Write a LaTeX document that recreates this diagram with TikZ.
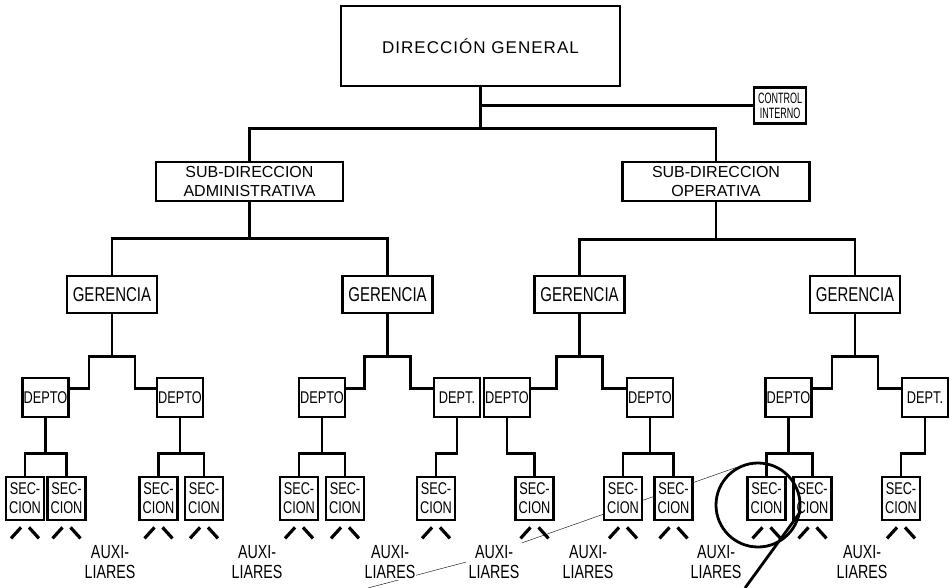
\documentclass[tikz,border=0pt]{standalone}
\usepackage{fontspec}
\setmainfont{Liberation Sans}
\newfontfamily\etroite[FakeStretch=0.75]{Liberation Sans}
\newfontfamily\tresetroite[FakeStretch=0.6]{Liberation Sans}
\newfontfamily\espacee[LetterSpace=6]{Liberation Sans}
\usetikzlibrary{backgrounds}

\begin{document}
\begin{tikzpicture}[x=1pt, y=-1pt, line width=2.8pt]
        % Style des noeuds
        \tikzstyle{bloc} = [draw, fill=white, inner sep=0pt, align=center]
        \tikzstyle{sub} = [bloc, minimum width=187pt, minimum height=39pt, font=\fontsize{16}{19}\selectfont]
        \tikzstyle{ger} = [bloc, minimum width=90pt, minimum height=37pt, font=\etroite\fontsize{20}{22}\selectfont]
        \tikzstyle{depto} = [bloc, minimum width=46pt, minimum height=39pt, font=\etroite\fontsize{17}{19}\selectfont]
        \tikzstyle{sec} = [bloc, minimum width=38pt, minimum height=43pt, font=\etroite\fontsize{17}{19}\selectfont]
        \tikzstyle{aux} = [fill=white, inner sep=1pt, align=center, font=\etroite\fontsize{19}{20}\selectfont]
        \tikzstyle{chev} = [line width=3.2pt]

        \useasboundingbox (0,0) rectangle (950,588);

        % Direction
        \node[bloc, minimum width=279pt, minimum height=80pt, font=\espacee\fontsize{17}{20}\selectfont] (dg) at (480.5,46) {DIRECCIÓN GENERAL};
        \node[bloc, minimum width=52pt, minimum height=36pt, font=\tresetroite\fontsize{15}{15}\selectfont] (ctrl) at (780,105.5) {CONTROL\\INTERNO};
        \node[sub] (sda) at (249.5,181.5) {SUB-DIRECCION\\ADMINISTRATIVA};
        \node[sub] (sdo) at (716,181.5) {SUB-DIRECCION\\OPERATIVA};

        % Gerencias
        \node[ger] (g1) at (112,294.5) {GERENCIA};
        \node[ger] (g2) at (387.5,294.5) {GERENCIA};
        \node[ger] (g3) at (579.5,294.5) {GERENCIA};
        \node[ger] (g4) at (855,294.5) {GERENCIA};

        % Departements
        \node[depto] (d1) at (45.5,397.5) {DEPTO};
        \node[depto] (d2) at (180,397.5) {DEPTO};
        \node[depto] (d3) at (322,397.5) {DEPTO};
        \node[depto] (d4) at (457,397.5) {DEPT.};
        \node[depto] (d5) at (507,397.5) {DEPTO};
        \node[depto] (d6) at (650,397.5) {DEPTO};
        \node[depto] (d7) at (788.5,397.5) {DEPTO};
        \node[depto] (d8) at (925,397.5) {DEPT.};

        % Secciones
        \node[sec] (s1a) at (25,498.5) {SEC-\\CION};
        \node[sec] (s1b) at (66.5,498.5) {SEC-\\CION};
        \node[sec] (s2a) at (158.5,498.5) {SEC-\\CION};
        \node[sec] (s2b) at (204,498.5) {SEC-\\CION};
        \node[sec] (s3a) at (299,498.5) {SEC-\\CION};
        \node[sec] (s3b) at (345,498.5) {SEC-\\CION};
        \node[sec] (s4) at (436,498.5) {SEC-\\CION};
        \node[sec] (s5) at (534.5,498.5) {SEC-\\CION};
        \node[sec] (s6a) at (623,498.5) {SEC-\\CION};
        \node[sec] (s6b) at (673.5,498.5) {SEC-\\CION};
        \node[sec] (s7a) at (766.5,498.5) {SEC-\\CION};
        \node[sec] (s7b) at (812.5,498.5) {SEC-\\CION};
        \node[sec] (s8) at (901,498.5) {SEC-\\CION};

        % Auxiliares
        \node[aux] (aux1) at (110,562) {AUXI-\\LIARES};
        \node[aux] (aux2) at (257,562) {AUXI-\\LIARES};
        \node[aux] (aux3) at (390,562) {AUXI-\\LIARES};
        \node[aux] (aux4) at (494,562) {AUXI-\\LIARES};
        \node[aux] (aux5) at (588,562) {AUXI-\\LIARES};
        \node[aux] (aux6) at (716,562) {AUXI-\\LIARES};
        \node[aux] (aux7) at (862,562) {AUXI-\\LIARES};

        % Liaisons
        \draw (dg.south) |- (ctrl.west);
        \draw (dg.south) -- ++(0,41) -| (sda.north);
        \draw (dg.south) -- ++(0,41) -| (sdo.north);
        \draw (sda.south) -- ++(0,36) -| (g1.north);
        \draw (sda.south) -- ++(0,36) -| (g2.north);
        \draw (sdo.south) -- ++(0,37) -| (g3.north);
        \draw (sdo.south) -- ++(0,37) -| (g4.north);
        \foreach \g/\l/\r in {g1/d1/d2, g2/d3/d4, g3/d5/d6, g4/d7/d8} {
            \draw (\g.south) -- ++(0,42) -- ++(-23,0) |- (\l.20);
            \draw (\g.south) -- ++(0,42) -- ++(23,0) |- (\r.160);
        }
        \foreach \d/\s in {d1/s1a, d1/s1b, d2/s2a, d2/s2b, d3/s3a, d3/s3b, d4/s4, d5/s5, d6/s6a, d6/s6b, d7/s7a, d7/s7b, d8/s8}
            \draw (\d.south) -- ++(0,35) -| (\s.north);

        % Petits chevrons sous les secciones
        \foreach \s in {s1a, s1b, s2a, s2b, s3a, s3b, s4, s5, s6a, s6b, s7a, s7b, s8} {
            \draw[chev] ([shift={(-14,17)}]\s.south) -- ++(10,-11);
            \draw[chev] ([shift={(4,6)}]\s.south) -- ++(10,11);
        }

        % Annotations
        \coordinate (pen1) at (368,588);
        \coordinate (pen2) at (745,588);
        \node[draw, circle, minimum size=84pt, inner sep=0pt] (rond) at (758,505) {};
        \draw (pen2) -- (rond.-8);
        \begin{pgfonlayer}{background}
            \draw (pen1) -- (aux4.west);
            \draw (aux4.north east) -- (rond.120);
        \end{pgfonlayer}

    \end{tikzpicture}
\end{document}
